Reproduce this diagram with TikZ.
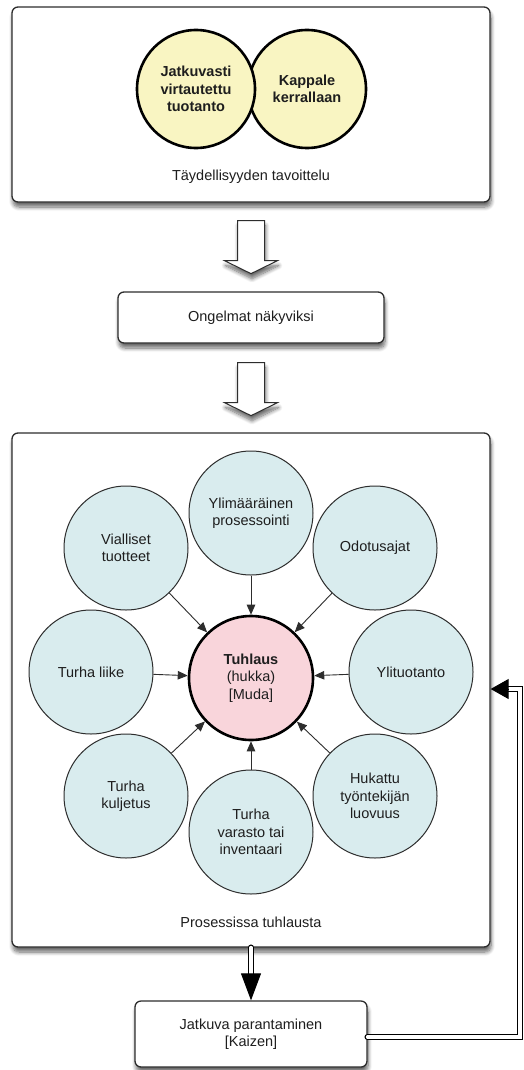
\documentclass[tikz,border=0pt]{standalone}
\usepackage{fontspec}
\setmainfont{Liberation Sans}
\usetikzlibrary{shapes.geometric,arrows.meta,shadows.blur,calc}
\definecolor{wastefill}{RGB}{217,236,238}
\definecolor{corefill}{RGB}{249,213,219}
\definecolor{goalfill}{RGB}{249,245,194}
\definecolor{edgegray}{RGB}{45,45,45}
\definecolor{inkgray}{RGB}{30,30,30}
\begin{document}
\begin{tikzpicture}[x=1pt,y=-1pt,
  font=\fontsize{14.5}{17.5}\selectfont, text=inkgray,
  shade/.style={blur shadow={shadow xshift=1pt, shadow yshift=-5pt,
      shadow blur radius=4pt, shadow blur steps=8, shadow opacity=60}},
  panel/.style={draw=edgegray, line width=1.3pt, rounded corners=6pt,
      fill=white, shade, inner sep=0pt, align=center},
  goal/.style={circle, draw=black, line width=2.6pt, fill=goalfill,
      minimum size=118pt, inner sep=0pt, align=center, font=\fontsize{14.5}{17.5}\selectfont\bfseries},
  waste/.style={circle, draw=edgegray, line width=1pt, fill=wastefill,
      minimum size=124pt, inner sep=0pt, align=center},
  core/.style={circle, draw=black, line width=2.6pt, fill=corefill,
      minimum size=124pt, inner sep=0pt, align=center},
  feed/.style={draw=edgegray, line width=0.9pt, -{Triangle[length=10pt,width=8.5pt]}},
  hollowarrow/.style={draw=edgegray, line width=1pt, fill=white, line join=miter, shade},
  dblline/.style={draw=black, line width=1.4pt, double=white, double distance=3.6pt,
      line cap=round},
  tiponly/.style={draw=black, line width=1pt},
  hollowdown/.pic={
    \path[hollowarrow] (-13.5,0) -- (13.5,0) -- (13.5,40) -- (26.5,40)
       -- (0,53) -- (-26.5,40) -- (-13.5,40) -- cycle;
  }
]
\useasboundingbox (0,0) rectangle (524,1070);

% ---- goal panel: two overlapping circles ----
\node[panel, minimum width=478pt, minimum height=195pt] (goalbox) at (251,104.5) {};
\node[goal] (piece) at (307,89) {Kappale\\kerrallaan};
\node[goal] (flow) at (196,89) {Jatkuvasti\\virtautettu\\tuotanto};
\node (goaltxt) at (251,177) {Täydellisyyden tavoittelu};

% ---- visible problems ----
\node[panel, minimum width=266pt, minimum height=51pt] (visible) at (251,317.5) {Ongelmat näkyviksi};

% ---- waste panel ----
\node[panel, minimum width=478pt, minimum height=514pt] (wastebox) at (251,690) {};
\node (wastetxt) at (251,922) {Prosessissa tuhlausta};

\node[core] (muda) at (251,678) {\textbf{Tuhlaus}\\(hukka)\\\relax[Muda]};
\node[waste] (extra) at (251,513) {Ylimääräinen\\prosessointi};
\node[waste] (defect) at (126,548) {Vialliset\\tuotteet};
\node[waste] (wait) at (375,548) {Odotusajat};
\node[waste] (motion) at (91,672) {Turha liike};
\node[waste] (over) at (411,672) {Ylituotanto};
\node[waste] (transp) at (126,796) {Turha\\kuljetus};
\node[waste] (stock) at (251,832) {Turha\\varasto tai\\inventaari};
\node[waste] (talent) at (375,796) {Hukattu\\työntekijän\\luovuus};

\foreach \src in {extra,defect,wait,motion,over,transp,stock,talent}
  \draw[feed] (\src) -- (muda);

% ---- continuous improvement ----
\node[panel, minimum width=232pt, minimum height=66pt] (kaizen) at (251,1034) {Jatkuva parantaminen\\\relax[Kaizen]};

% ---- block arrows between the upper panels ----
\pic at ($(goalbox.south)+(0,18)$) {hollowdown};
\pic at ($(visible.south)+(0,19)$) {hollowdown};

% ---- double-line connectors, each closed by a solid head ----
\draw[dblline, shorten >=20pt] (wastebox.south) -- (kaizen.north);
\draw[tiponly, -{Triangle[length=27pt,width=20pt]}]
  ($(kaizen.north)+(0,-26)$) -- (kaizen.north);

\coordinate (fbA) at (520,1037);
\coordinate (fbB) at (520,689);
\draw[dblline, shorten >=12pt] (kaizen.east |- fbA) -- (fbA) -- (fbB) -- (wastebox.east |- fbB);
\draw[tiponly, -{Triangle[length=18pt,width=20pt]}]
  ($(wastebox.east |- fbB)+(17,0)$) -- (wastebox.east |- fbB);
\end{tikzpicture}
\end{document}
